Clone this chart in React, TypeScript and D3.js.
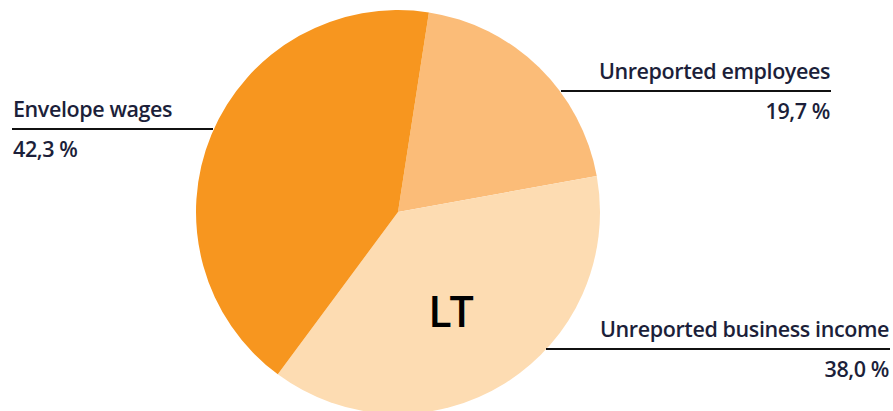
import React, { useRef, useEffect } from "react";
import * as d3 from "d3";

const categories = ["Unreported employees", "Unreported business income", "Envelope wages"];
const values = [19.7, 38.0, 42.3];
const valueLabels = ["19,7 %", "38,0 %", "42,3 %"];
const colors = ["#fbbc78", "#fddcb2", "#f7961f"];

const App = () => {
  const svgRef = useRef(null);

  useEffect(() => {
    const width = 893;
    const height = 411;
    const cx = 398;
    const cy = 212;
    const r = 202;

    const svg = d3.select(svgRef.current);
    svg.selectAll("*").remove();
    svg.attr("width", width).attr("height", height);

    /* pie, starting a little right of the top */
    const startAngle = (8.8 * Math.PI) / 180;
    const pie = d3
      .pie<number>()
      .sort(null)
      .startAngle(startAngle)
      .endAngle(startAngle + 2 * Math.PI);
    const arc = d3.arc<d3.PieArcDatum<number>>().innerRadius(0).outerRadius(r);

    const g = svg.append("g").attr("transform", `translate(${cx}, ${cy})`);
    g.selectAll("path")
      .data(pie(values))
      .enter()
      .append("path")
      .attr("d", arc)
      .attr("fill", (d, i) => colors[i]);

    /* labels */
    const labels = [
      { name: categories[0], value: valueLabels[0], x1: 561, x2: 831, y: 91, anchor: "end" },
      { name: categories[1], value: valueLabels[1], x1: 546, x2: 890, y: 349, anchor: "end" },
      { name: categories[2], value: valueLabels[2], x1: 12, x2: 213, y: 129, anchor: "start" },
    ];

    const font = "'Open Sans', sans-serif";

    labels.forEach((l) => {
      const tx = l.anchor === "end" ? l.x2 - 1 : l.x1 + 1;
      svg
        .append("line")
        .attr("x1", l.x1)
        .attr("x2", l.x2)
        .attr("y1", l.y)
        .attr("y2", l.y)
        .attr("stroke", "#111")
        .attr("stroke-width", 2);
      svg
        .append("text")
        .attr("x", tx)
        .attr("y", l.y - 12)
        .attr("text-anchor", l.anchor)
        .style("font-family", font)
        .style("font-size", "21.5px")
        .style("font-weight", 600)
        .style("letter-spacing", "-0.4px")
        .style("fill", "#1c1f3a")
        .text(l.name);
      svg
        .append("text")
        .attr("x", tx)
        .attr("y", l.y + 28)
        .attr("text-anchor", l.anchor)
        .style("font-family", font)
        .style("font-size", "21.5px")
        .style("font-weight", 600)
        .style("letter-spacing", "-0.4px")
        .style("fill", "#1c1f3a")
        .text(l.value);
    });

    /* country code */
    svg
      .append("text")
      .attr("x", 450)
      .attr("y", 327)
      .attr("text-anchor", "middle")
      .style("font-family", font)
      .style("font-size", "43px")
      .style("font-weight", 600)
      .style("letter-spacing", "-2px")
      .style("fill", "#000")
      .text("LT");
  }, []);

  return (
    <div style={{ position: "absolute", left: 0, top: 0 }}>
      <svg ref={svgRef} />
    </div>
  );
};

export default App;
